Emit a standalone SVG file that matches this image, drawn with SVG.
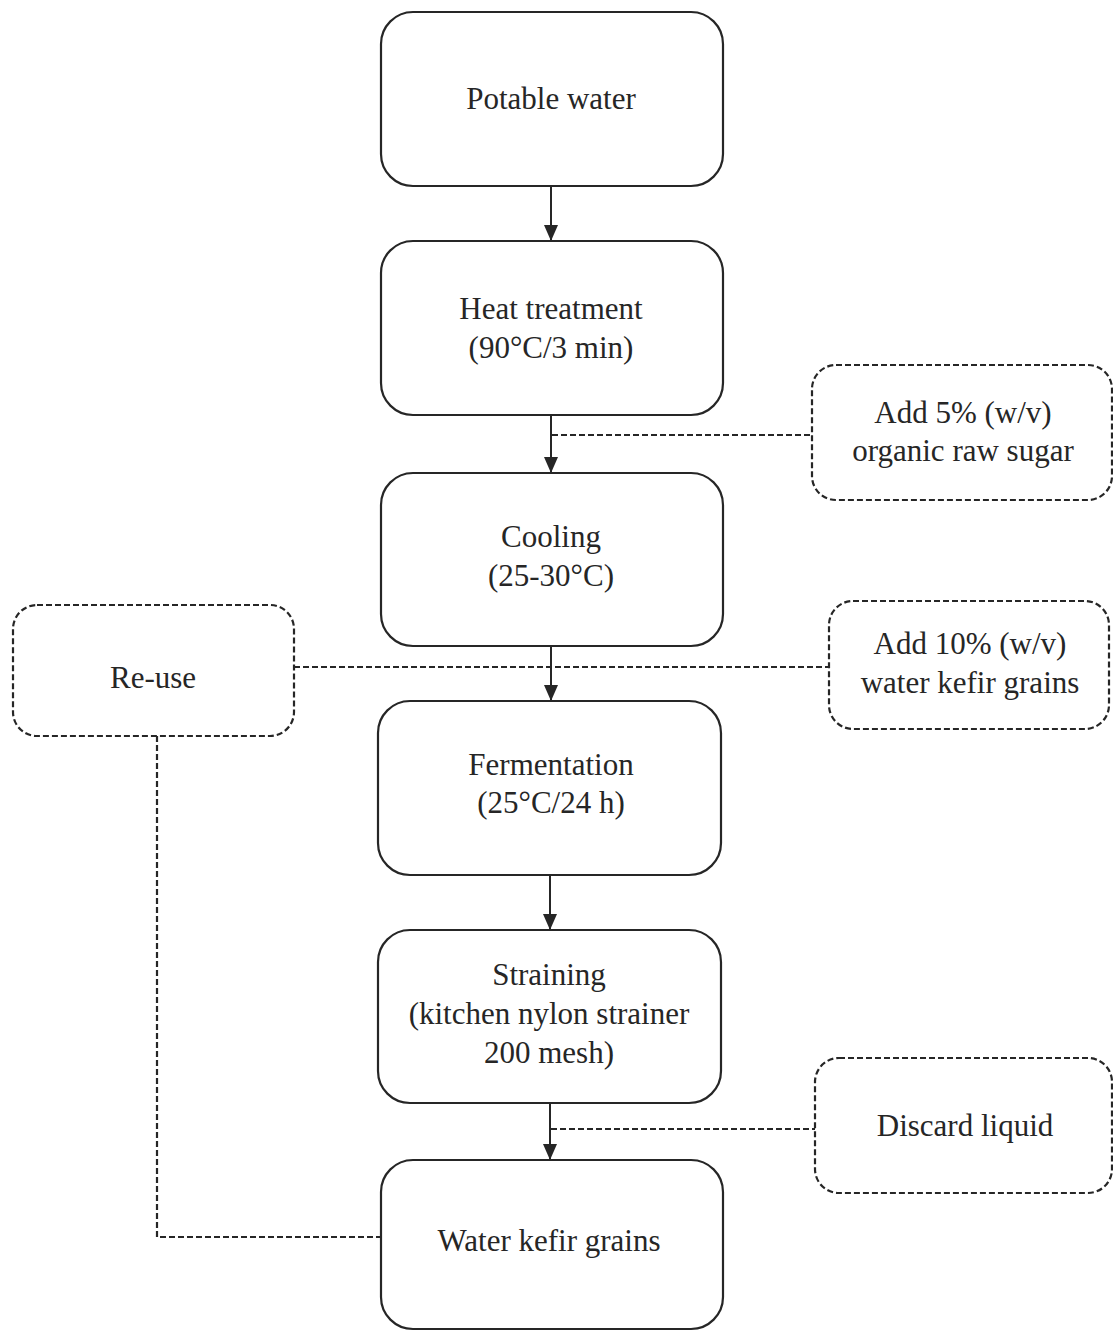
<svg xmlns="http://www.w3.org/2000/svg" width="1113" height="1331" viewBox="0 0 1113 1331">
<style>
.box{fill:#fff;stroke:#262626;stroke-width:2.2}
.dbox{fill:#fff;stroke:#262626;stroke-width:2.2;stroke-dasharray:6 3}
.t{font-family:"Liberation Serif","Times New Roman",serif;font-size:31px;fill:#262626;text-anchor:middle}
.ln{fill:none;stroke:#262626;stroke-width:2}
.dl{fill:none;stroke:#262626;stroke-width:2.2;stroke-dasharray:6 3}
</style>
<defs>
<marker id="ah" markerWidth="16" markerHeight="14" refX="16" refY="7" orient="auto" markerUnits="userSpaceOnUse" viewBox="0 0 16 14">
<path d="M0,0 L16,7 L0,14 Z" fill="#262626"/>
</marker>
</defs>
<rect width="1113" height="1331" fill="#fff"/>
<g id="connectors">
<line class="ln" x1="551" y1="186" x2="551" y2="241" marker-end="url(#ah)"/>
<line class="ln" x1="551" y1="415" x2="551" y2="473" marker-end="url(#ah)"/>
<line class="ln" x1="551" y1="646" x2="551" y2="701" marker-end="url(#ah)"/>
<line class="ln" x1="550" y1="875" x2="550" y2="930" marker-end="url(#ah)"/>
<line class="ln" x1="550" y1="1103" x2="550" y2="1160" marker-end="url(#ah)"/>
<line class="dl" x1="552" y1="435" x2="812" y2="435"/>
<line class="dl" x1="294" y1="667" x2="829" y2="667"/>
<line class="dl" x1="551" y1="1129" x2="815" y2="1129"/>
<polyline class="dl" points="157,736 157,1237 381,1237"/>
</g>
<g id="n1"><rect class="box" x="381" y="12" width="342" height="174" rx="32"/><text class="t" x="551" y="109">Potable water</text></g>
<g id="n2"><rect class="box" x="381" y="241" width="342" height="174" rx="32"/><text class="t" x="551" y="319">Heat treatment</text><text class="t" x="551" y="358">(90°C/3 min)</text></g>
<g id="n3"><rect class="box" x="381" y="473" width="342" height="173" rx="32"/><text class="t" x="551" y="547">Cooling</text><text class="t" x="551" y="586">(25-30°C)</text></g>
<g id="n4"><rect class="box" x="378" y="701" width="343" height="174" rx="32"/><text class="t" x="551" y="775">Fermentation</text><text class="t" x="551" y="813">(25°C/24 h)</text></g>
<g id="n5"><rect class="box" x="378" y="930" width="343" height="173" rx="32"/><text class="t" x="549" y="985">Straining</text><text class="t" x="549" y="1024">(kitchen nylon strainer</text><text class="t" x="549" y="1063">200 mesh)</text></g>
<g id="n6"><rect class="box" x="381" y="1160" width="342" height="169" rx="32"/><text class="t" x="549" y="1251">Water kefir grains</text></g>
<g id="s1"><rect class="dbox" x="812" y="365" width="300" height="135" rx="24"/><text class="t" x="963" y="423">Add 5% (w/v)</text><text class="t" x="963" y="461">organic raw sugar</text></g>
<g id="s2"><rect class="dbox" x="829" y="601" width="280" height="128" rx="24"/><text class="t" x="970" y="654">Add 10% (w/v)</text><text class="t" x="970" y="693">water kefir grains</text></g>
<g id="s3"><rect class="dbox" x="13" y="605" width="281" height="131" rx="24"/><text class="t" x="153" y="688">Re-use</text></g>
<g id="s4"><rect class="dbox" x="815" y="1058" width="297" height="135" rx="24"/><text class="t" x="965" y="1136">Discard liquid</text></g>
</svg>
